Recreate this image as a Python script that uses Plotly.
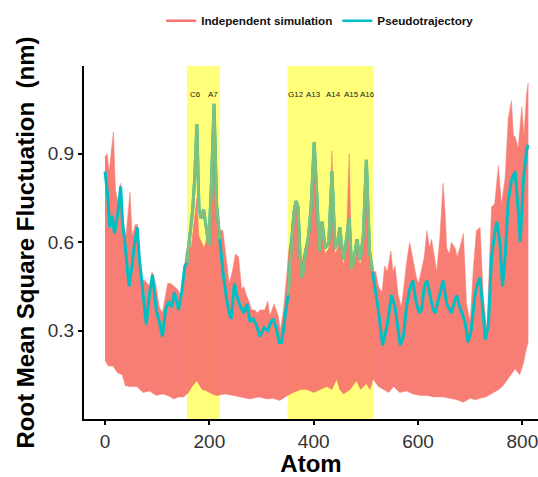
import plotly.graph_objects as go

# Independent simulations: upper envelope
upper_x = [0, 4, 8, 12, 16, 20, 26, 30, 35, 40, 45, 48, 52, 58, 62, 66, 70, 76, 81, 86, 90, 97, 104, 110, 116, 120, 126, 133, 139, 145, 150, 155, 160, 165, 170, 176, 180, 185, 190, 196, 200, 205, 209, 214, 220, 226, 232, 238, 244, 250, 256, 262, 266, 271, 276, 281, 287, 292, 297, 306, 312, 316, 324, 332, 336, 342, 348, 352, 357, 362, 366, 370, 376, 383, 390, 395, 401, 406, 411, 416, 422, 429, 435, 441, 446, 450, 457, 462, 468, 473, 478, 483, 489, 495, 501, 507, 513, 519, 524, 531, 536, 541, 548, 552, 556, 562, 568, 573, 578, 584, 588, 592, 597, 601, 607, 612, 617, 622, 626, 631, 636, 642, 648, 652, 655, 660, 664, 671, 675, 680, 687, 693, 700, 706, 712, 719, 725, 732, 737, 741, 747, 754, 760, 767, 773, 779, 783, 786, 792, 799, 803, 808, 811]
upper_y = [0.89, 0.90, 0.84, 0.90, 0.975, 0.78, 0.72, 0.80, 0.66, 0.62, 0.71, 0.77, 0.62, 0.66, 0.66, 0.56, 0.47, 0.47, 0.46, 0.45, 0.50, 0.46, 0.38, 0.36, 0.42, 0.46, 0.46, 0.45, 0.44, 0.42, 0.48, 0.56, 0.60, 0.58, 0.66, 0.75, 0.62, 0.60, 0.58, 0.62, 0.64, 0.78, 0.89, 0.75, 0.64, 0.64, 0.55, 0.46, 0.50, 0.56, 0.55, 0.44, 0.45, 0.42, 0.40, 0.37, 0.37, 0.36, 0.37, 0.37, 0.40, 0.35, 0.39, 0.35, 0.30, 0.37, 0.48, 0.57, 0.62, 0.72, 0.74, 0.70, 0.52, 0.58, 0.62, 0.70, 0.88, 0.70, 0.56, 0.65, 0.56, 0.58, 0.91, 0.56, 0.58, 0.62, 0.52, 0.57, 0.90, 0.50, 0.53, 0.58, 0.52, 0.58, 0.86, 0.55, 0.50, 0.50, 0.45, 0.43, 0.52, 0.50, 0.57, 0.50, 0.52, 0.42, 0.38, 0.45, 0.53, 0.60, 0.56, 0.53, 0.48, 0.46, 0.51, 0.55, 0.64, 0.58, 0.61, 0.55, 0.50, 0.62, 0.80, 0.70, 0.58, 0.56, 0.60, 0.58, 0.55, 0.58, 0.63, 0.39, 0.33, 0.51, 0.64, 0.65, 0.42, 0.30, 0.52, 0.72, 0.73, 0.86, 0.73, 0.82, 1.02, 1.08, 0.96, 0.96, 0.92, 1.06, 0.96, 1.10, 1.14]

# Independent simulations: lower envelope
lower_x = [0, 6, 15, 24, 33, 39, 48, 61, 73, 85, 98, 110, 120, 132, 141, 151, 160, 167, 176, 186, 195, 205, 214, 230, 246, 262, 278, 295, 310, 322, 335, 350, 361, 375, 387, 400, 412, 425, 435, 444, 450, 457, 470, 482, 490, 501, 508, 514, 524, 534, 544, 553, 565, 578, 590, 604, 617, 630, 648, 662, 675, 687, 700, 710, 719, 730, 744, 755, 763, 770, 778, 786, 795, 802, 808, 811]
lower_y = [0.20, 0.18, 0.18, 0.157, 0.15, 0.113, 0.11, 0.11, 0.09, 0.095, 0.08, 0.085, 0.08, 0.068, 0.075, 0.075, 0.09, 0.11, 0.13, 0.10, 0.095, 0.085, 0.08, 0.085, 0.08, 0.075, 0.068, 0.075, 0.068, 0.07, 0.063, 0.08, 0.09, 0.10, 0.10, 0.09, 0.10, 0.11, 0.10, 0.135, 0.10, 0.085, 0.10, 0.13, 0.10, 0.12, 0.10, 0.135, 0.11, 0.10, 0.09, 0.11, 0.09, 0.095, 0.085, 0.08, 0.08, 0.075, 0.075, 0.07, 0.065, 0.057, 0.07, 0.065, 0.07, 0.075, 0.09, 0.10, 0.113, 0.13, 0.15, 0.17, 0.15, 0.19, 0.24, 0.26]

# Pseudotrajectory
pseudo_x = [0, 5, 9, 14, 18, 24, 30, 34, 38, 43, 46, 51, 57, 62, 66, 71, 79, 85, 91, 98, 104, 110, 116, 122, 128, 133, 141, 147, 153, 157, 163, 168, 172, 176, 180, 184, 189, 194, 199, 204, 209, 214, 220, 226, 232, 238, 242, 248, 254, 260, 266, 272, 278, 284, 290, 297, 305, 312, 318, 322, 328, 334, 338, 342, 346, 351, 357, 362, 366, 370, 374, 378, 384, 390, 395, 401, 406, 411, 416, 422, 429, 435, 441, 446, 450, 457, 462, 468, 473, 478, 483, 489, 495, 501, 507, 513, 519, 524, 532, 541, 549, 556, 562, 566, 572, 578, 584, 590, 596, 602, 607, 612, 617, 623, 629, 633, 638, 643, 648, 655, 664, 670, 674, 680, 686, 690, 696, 702, 709, 714, 719, 724, 729, 735, 741, 747, 751, 757, 762, 767, 773, 779, 786, 792, 796, 802, 808, 811]
pseudo_y = [0.84, 0.76, 0.65, 0.69, 0.63, 0.69, 0.79, 0.66, 0.60, 0.51, 0.45, 0.51, 0.60, 0.65, 0.54, 0.46, 0.32, 0.42, 0.49, 0.37, 0.33, 0.28, 0.37, 0.40, 0.38, 0.43, 0.37, 0.43, 0.52, 0.53, 0.62, 0.71, 0.82, 1.00, 0.72, 0.68, 0.71, 0.65, 0.59, 0.80, 1.07, 0.72, 0.61, 0.50, 0.42, 0.36, 0.34, 0.46, 0.41, 0.38, 0.36, 0.39, 0.33, 0.34, 0.32, 0.28, 0.31, 0.30, 0.33, 0.34, 0.31, 0.26, 0.26, 0.30, 0.36, 0.42, 0.59, 0.70, 0.74, 0.72, 0.55, 0.48, 0.56, 0.62, 0.72, 0.94, 0.76, 0.57, 0.67, 0.58, 0.60, 0.84, 0.58, 0.60, 0.65, 0.54, 0.60, 0.68, 0.51, 0.55, 0.61, 0.54, 0.62, 0.88, 0.57, 0.50, 0.44, 0.37, 0.25, 0.32, 0.42, 0.38, 0.30, 0.25, 0.28, 0.38, 0.44, 0.47, 0.40, 0.36, 0.37, 0.45, 0.47, 0.42, 0.37, 0.36, 0.40, 0.43, 0.47, 0.39, 0.36, 0.40, 0.42, 0.38, 0.35, 0.33, 0.26, 0.30, 0.42, 0.46, 0.48, 0.38, 0.27, 0.32, 0.55, 0.63, 0.67, 0.60, 0.45, 0.55, 0.74, 0.81, 0.84, 0.71, 0.60, 0.81, 0.91, 0.93]

# Highlighted regions and nucleotide labels
region_start = [157, 350]
region_end = [220, 514]
label_text = ["C6", "A7", "G12", "A13", "A14", "A15", "A16"]
label_x = [174, 207, 366, 399, 438, 472, 504]
label_y = 1.1

RED = "#F8766D"
TEAL = "#00BFC4"
TEAL_ON_YELLOW = "#7EC07C"
YELLOW = "#FFFF7A"
FONT = "Liberation Sans, Arial, Helvetica, sans-serif"

fig = go.Figure()

# band of independent simulations
band_x = upper_x + lower_x[::-1]
band_y = upper_y + lower_y[::-1]
fig.add_trace(go.Scatter(x=band_x, y=band_y, fill="toself", fillcolor=RED,
                         opacity=0.94, line=dict(width=0.5, color=RED),
                         mode="lines", showlegend=False, hoverinfo="skip"))

# pseudotrajectory line
fig.add_trace(go.Scatter(x=pseudo_x, y=pseudo_y, mode="lines",
                         line=dict(color=TEAL, width=3), showlegend=False))


def in_region(v):
    return any(s <= v <= e for s, e in zip(region_start, region_end))


inside_y = [y if in_region(x) else None for x, y in zip(pseudo_x, pseudo_y)]
fig.add_trace(go.Scatter(x=pseudo_x, y=inside_y, mode="lines",
                         line=dict(color=TEAL_ON_YELLOW, width=3),
                         showlegend=False, connectgaps=False))

# legend entries
fig.add_trace(go.Scatter(x=[None], y=[None], mode="lines",
                         line=dict(color=RED, width=2.5), name="<b>Independent simulation</b>"))
fig.add_trace(go.Scatter(x=[None], y=[None], mode="lines",
                         line=dict(color=TEAL, width=2.5), name="<b>Pseudotrajectory</b>"))

for s, e in zip(region_start, region_end):
    fig.add_shape(type="rect", xref="x", yref="paper", x0=s, x1=e, y0=0, y1=1,
                  fillcolor=YELLOW, line=dict(width=0), layer="below")

for t, x in zip(label_text, label_x):
    fig.add_annotation(x=x, y=label_y, text=t, showarrow=False,
                       font=dict(size=8, color="#222222", family=FONT))

fig.update_layout(
    width=538, height=477,
    margin=dict(l=84, r=0, t=66, b=58),
    paper_bgcolor="white", plot_bgcolor="white",
    font=dict(family=FONT, color="#333333"),
    showlegend=True,
    legend=dict(orientation="h", x=0.17, y=1.128, xanchor="left", yanchor="middle",
                font=dict(size=11.7, color="#111111", family="Liberation Sans, Arial"),
                itemwidth=30, bgcolor="rgba(0,0,0,0)"),
    xaxis=dict(range=[-40.3, 830], tickvals=[0, 200, 400, 600, 800],
               showgrid=False, zeroline=False, showline=True, linecolor="black",
               linewidth=2, ticks="outside", ticklen=4, tickcolor="black", tickwidth=1.5,
               tickfont=dict(size=19, color="#333333"), ticklabeloverflow="allow",
               automargin=False,
               title=dict(text="<b>Atom</b>", font=dict(size=24, color="black"), standoff=8)),
    yaxis=dict(range=[0.0, 1.198], tickvals=[0.3, 0.6, 0.9], ticktext=["0.3", "0.6", "0.9"],
               showgrid=False, zeroline=False, showline=True, linecolor="black",
               linewidth=2, ticks="outside", ticklen=4, tickcolor="black", tickwidth=1.5,
               tickfont=dict(size=19, color="#333333"), automargin=False,
               title=dict(text="<b>Root Mean Square Fluctuation  (nm)</b>",
                          font=dict(size=24, color="black"), standoff=6)),
)

fig.write_html("out.html")
